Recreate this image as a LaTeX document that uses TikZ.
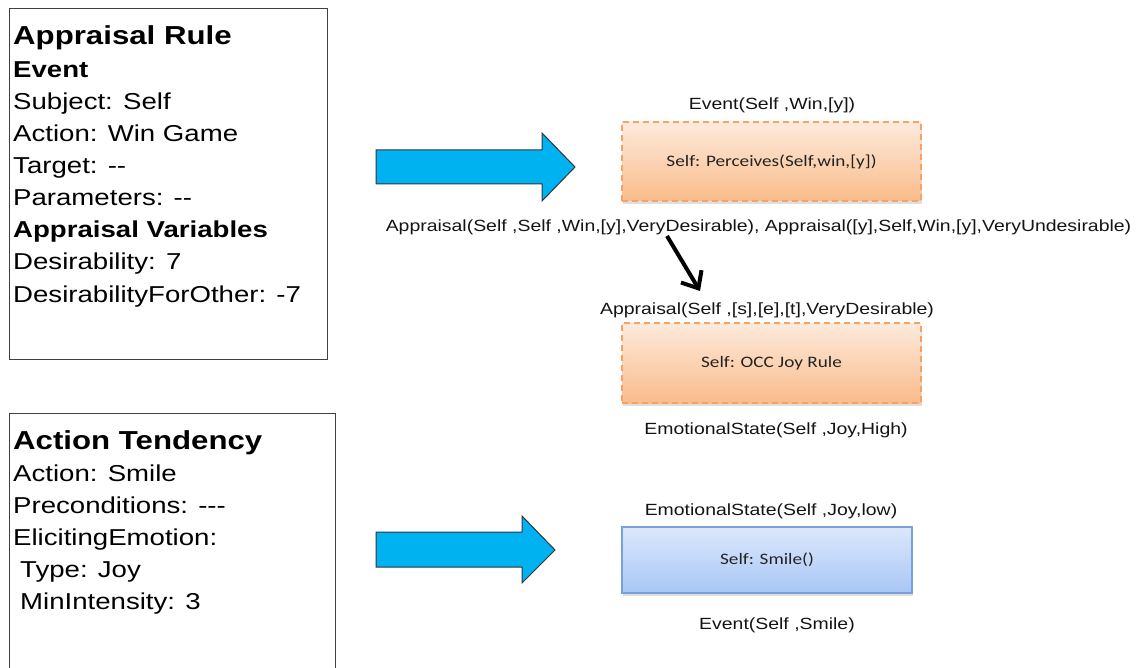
\documentclass[tikz,border=0pt]{standalone}
\usepackage{fontspec}
\setmainfont{Liberation Sans}[FakeStretch=1.2]
\newfontfamily\calfont{Carlito}[FakeStretch=1.2]
\usetikzlibrary{arrows.meta,shadows}
\newcommand\leftsz{\fontsize{23}{28}\selectfont}
\newcommand\titlesz{\fontsize{26}{30}\bfseries\selectfont}
\newcommand\labsz{\fontsize{16.2}{19}\selectfont}
\newcommand\boxsz{\fontsize{16}{19}\selectfont\calfont}
\definecolor{cyanfill}{RGB}{0,178,240}
\definecolor{cyanedge}{RGB}{45,55,65}
\definecolor{orgtop}{RGB}{253,234,220}
\definecolor{orgbot}{RGB}{249,188,138}
\definecolor{orgedge}{RGB}{247,162,100}
\definecolor{blutop}{RGB}{220,232,252}
\definecolor{blubot}{RGB}{168,198,245}
\definecolor{bluedge}{RGB}{120,160,220}
\definecolor{labtxt}{RGB}{20,20,20}
\definecolor{boxtxt}{RGB}{35,35,35}
\tikzset{
  panel/.style={draw=black!75, line width=1pt},
  ltext/.style={anchor=base west, inner sep=0pt, font=\leftsz},
  ttext/.style={anchor=base west, inner sep=0pt, font=\titlesz},
  btext/.style={anchor=base west, inner sep=0pt, font=\leftsz\bfseries},
  lab/.style={inner sep=0pt, font=\labsz, text=labtxt},
  orgbox/.style={draw=orgedge, line width=1.2pt, dash pattern=on 6pt off 4pt,
    top color=orgtop, bottom color=orgbot, minimum width=299pt, minimum height=79pt,
    inner sep=0pt, font=\boxsz, text=boxtxt,
    drop shadow={opacity=0.25, shadow xshift=1pt, shadow yshift=-3pt}},
  blubox/.style={draw=bluedge, line width=1.2pt,
    top color=blutop, bottom color=blubot, minimum width=290pt, minimum height=66pt,
    inner sep=0pt, font=\boxsz, text=boxtxt,
    drop shadow={opacity=0.25, shadow xshift=1pt, shadow yshift=-3pt}},
  bigarrow/.style={fill=cyanfill, draw=cyanedge, line width=1pt, line join=miter},
  blk/.style={line width=4pt, -{Straight Barb[length=14pt, width=24pt, line width=4pt]}}
}
\begin{document}
\begin{tikzpicture}[x=1pt,y=-1pt]
\useasboundingbox (0,0) rectangle (1140,668);
\clip (0,0) rectangle (1140,668);
% left panels
\draw[panel] (9,9) rectangle (327,359);
\node[ttext] (r1) at (13,45) {Appraisal Rule};
\node[btext] (r2) at (13,78) {Event};
\node[ltext] (r3) at (13,110) {Subject: Self};
\node[ltext] (r4) at (13,142) {Action: Win Game};
\node[ltext] (r5) at (13,174) {Target: -{}-};
\node[ltext] (r6) at (13,206) {Parameters: -{}-};
\node[btext] (r7) at (13,238) {Appraisal Variables};
\node[ltext] (r8) at (13,270) {Desirability: 7};
\node[ltext] (r9) at (13,302) {DesirabilityForOther: -7};

\draw[panel] (9,680) -- (9,413) -- (335,413) -- (335,680);
\node[ttext] (t1) at (13,449) {Action Tendency};
\node[ltext] (t2) at (13,481) {Action: Smile};
\node[ltext] (t3) at (13,513) {Preconditions: -{}-{}-};
\node[ltext] (t4) at (13,545) {ElicitingEmotion:};
\node[ltext] (t5) at (20,577) {Type: Joy};
\node[ltext] (t6) at (20,609) {MinIntensity: 3};

% cyan arrows
\draw[bigarrow] (376,150) -- (542,150) -- (542,133) -- (575,167) -- (542,201) -- (542,184) -- (376,184) -- cycle;
\draw[bigarrow] (376,532) -- (522,532) -- (522,516) -- (555,550) -- (522,583) -- (522,567) -- (376,567) -- cycle;

% right side
\node[lab] (ev1) at (772,105) {Event(Self ,Win,[y])};
\node[orgbox] (perc) at (771.5,161.5) {Self: Perceives(Self,win,[y])};
\node[lab] (appr1) at (758.5,227) {Appraisal(Self ,Self ,Win,[y],VeryDesirable), Appraisal([y],Self,Win,[y],VeryUndesirable)};
\node[lab] (appr2) at (767,310) {Appraisal(Self ,[s],[e],[t],VeryDesirable)};
\node[orgbox, minimum height=80pt] (joy) at (771.5,363) {Self: OCC Joy Rule};
\node[lab] (emo1) at (776,430) {EmotionalState(Self ,Joy,High)};
\node[lab] (emo2) at (771,511) {EmotionalState(Self ,Joy,low)};
\node[blubox] (smile) at (767,560) {Self: Smile()};
\node[lab] (ev2) at (777,625) {Event(Self ,Smile)};

\coordinate (bs) at (667,236);
\coordinate (be) at (700,291);
\draw[blk] (bs) -- (be);
\end{tikzpicture}
\end{document}
